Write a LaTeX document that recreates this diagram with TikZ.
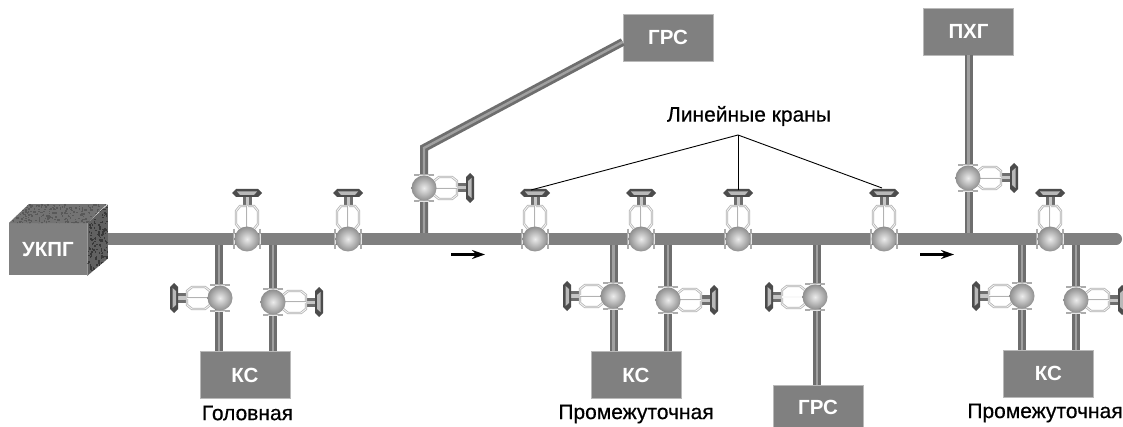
\documentclass[tikz,border=0pt]{standalone}
\usepackage{fontspec}
\setmainfont{Liberation Sans}
\newfontfamily\capfont[FakeBold=0.45]{Liberation Sans}
\usepackage{xcolor}
\usetikzlibrary{positioning,calc,arrows.meta}
\definecolor{pipegray}{HTML}{808080}
\definecolor{pipedark}{HTML}{6E6E6E}
\definecolor{pipelight}{HTML}{A0A0A0}
\tikzset{
  mainpipe/.style = {line width = 12pt, pipegray},
  pipe/.style = {line width = 2.8pt, pipedark, double = pipelight, double distance = 2.4pt},
  unit/.style = {fill = pipegray, draw = gray!55, line width = .6pt, minimum width = 90pt, minimum height = 47pt, inner sep = 0pt, text = white, font = \fontsize{20.5}{22}\selectfont\bfseries},
  caption/.style = {font = \fontsize{21}{24}\capfont, inner sep = 0pt},
  leader/.style = {black, line width = .9pt},
  flow/.style = {-{Stealth[length = 13pt, width = 9pt]}, black, line width = 2.2pt},
  valve/.pic = {
    \draw[line width = 3pt, pipedark, double = gray!45, double distance = 3pt] (0,-32) -- (0,-44);
    \draw[line width = .8pt, gray!60, double = gray!5, double distance = .8pt] (-7,-33) -- (7,-33) -- (11,-28) -- (11,-15) -- (7,-10) -- (-7,-10) -- (-11,-15) -- (-11,-28) -- cycle;
    \draw[line width = .8pt, gray!60, double = gray!5, double distance = 1pt] (0,-33) -- (0,-10);
    \fill[gray!60!black] (-15,-46) -- (-11,-50) -- (11,-50) -- (15,-46) -- (11,-42) -- (-11,-42) -- cycle;
    \fill[gray!55] (-10,-47.5) -- (10,-47.5) -- (7,-44) -- (-7,-44) -- cycle;
    \draw[line width = 1.5pt, gray!65] (-13,-10) -- (-13,10) (13,-10) -- (13,10);
    \draw[line width = .8pt, gray!20] (-13,-5) -- (-13,5) (13,-5) -- (13,5);
    \shade[inner color = gray!15, outer color = gray!88] (0,0) circle (12.5);
  }
}
\begin{document}
\begin{tikzpicture}[x = 1pt, y = -1pt]
\useasboundingbox (0,0) rectangle (1123,427);
\fill[white] (0,0) rectangle (1123,427);
\node[unit, minimum width = 78pt, minimum height = 52pt, draw = none] (ukpg) at (48,249.5) {УКПГ};
\pgfmathsetseed{7}
\begin{scope}
\clip (ukpg.north west) -- ++(20,-19) -- ++(78,0) -- (ukpg.north east) -- cycle;
\fill[gray!90!black] (9,204) rectangle (108,224);
\foreach \n in {1,...,260}
  \fill[black!65] ({12+96*rnd},{204+19*rnd}) rectangle ++(1.5,1.5);
\end{scope}
\begin{scope}
\clip (ukpg.north east) -- ++(21,-19) -- ++(0,54) -- (ukpg.south east) -- cycle;
\fill[black!62] (87,204) rectangle (108,276);
\foreach \n in {1,...,170}
  \fill[black!78] ({87+21*rnd},{204+72*rnd}) rectangle ++(1.5,1.5);
\end{scope}
\node[unit] (grstop) at (668,37.5) {ГРС};
\node[unit] (pxg) at (968.5,31.5) {ПХГ};
\node[unit] (ksa) at (245,375) {КС};
\node[unit] (ksb) at (636,375) {КС};
\node[unit] (ksc) at (1048.5,373.5) {КС};
\node[unit, minimum height = 44pt] (grsbot) at (818,407) {ГРС};
\coordinate (mainfrom) at (108,239);
\coordinate (mainto) at (1116,239);
\coordinate (tapa) at (219,239);
\coordinate (tapb) at (273,239);
\coordinate (tapc) at (424,239);
\coordinate (tapd) at (613.5,239);
\coordinate (tape) at (668,239);
\coordinate (tapf) at (817,239);
\coordinate (tapg) at (968.5,239);
\coordinate (taph) at (1022,239);
\coordinate (tapi) at (1076,239);
\coordinate (bend) at (424,148);
\draw[pipe] (tapa) -- (tapa |- ksa.north);
\draw[pipe] (tapb) -- (tapb |- ksa.north);
\draw[pipe] (tapc) -- (bend) -- (grstop.west |- 0,42);
\draw[pipe] (tapd) -- (tapd |- ksb.north);
\draw[pipe] (tape) -- (tape |- ksb.north);
\draw[pipe] (tapf) -- (tapf |- grsbot.north);
\draw[pipe] (tapg) -- (tapg |- pxg.south);
\draw[pipe] (taph) -- (taph |- ksc.north);
\draw[pipe] (tapi) -- (tapi |- ksc.north);
\draw[mainpipe] (mainfrom) -- (mainto);
\fill[pipegray] (mainto) ++(0,-6) arc[start angle = -90, end angle = 90, radius = 6, y = 1pt] -- cycle;
\foreach \px in {247,348,535,641,738,884,1050}
  \pic at (\px,239) {valve};
\foreach \px/\py in {220/298,613/296,815/297,1022/296}
  \pic[rotate = 90] at (\px,\py) {valve};
\foreach \px/\py in {273/302,424/188,668/300,968/178,1076/300}
  \pic[rotate = -90] at (\px,\py) {valve};
\coordinate (arrowa) at (451,254.5);
\coordinate (arrowb) at (485,254.5);
\coordinate (arrowc) at (920,254.5);
\coordinate (arrowd) at (954,254.5);
\draw[flow] (arrowa) -- (arrowb);
\draw[flow] (arrowc) -- (arrowd);
\node[caption] (linecap) at (749,116) {Линейные краны};
\coordinate (leadfrom) at (738,135);
\coordinate (leada) at (531,190);
\coordinate (leadb) at (738,190);
\coordinate (leadc) at (882,188);
\draw[leader] (leadfrom) -- (leada);
\draw[leader] (leadfrom) -- (leadb);
\draw[leader] (leadfrom) -- (leadc);
\node[caption] (capa) at (247.5,413) {Головная};
\node[caption] (capb) at (636,414) {Промежуточная};
\node[caption] (capc) at (1045,413) {Промежуточная};
\end{tikzpicture}
\end{document}
